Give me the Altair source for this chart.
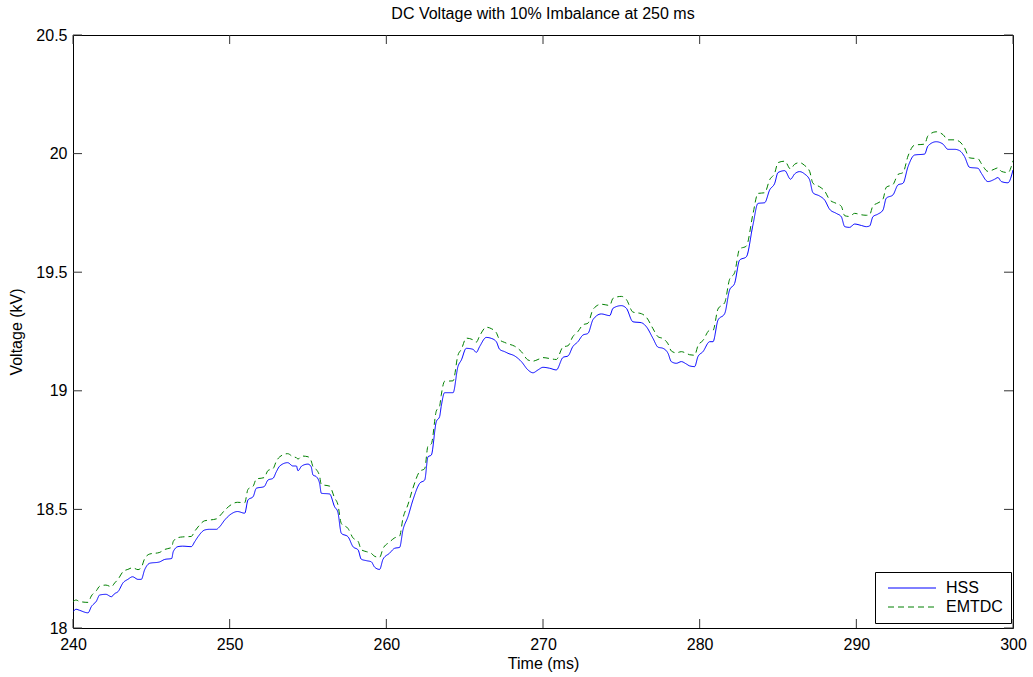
import altair as alt
import pandas as pd

# Sample times (ms) and DC voltages (kV) for both simulations
time_ms = [
    240.0, 240.2, 240.4, 240.96, 241.17, 241.5, 241.7, 242.1, 242.45, 242.66,
    242.87, 243.2, 243.5, 243.8, 244.15, 244.36, 244.57, 244.9, 245.5, 245.85,
    246.3, 246.4, 246.7, 247.0, 247.55, 247.77, 247.98, 248.4, 248.7, 249.15,
    249.36, 249.68, 250.1, 250.5, 250.96, 251.17, 251.5, 251.7, 252.2, 252.45,
    252.77, 252.98, 253.2, 253.7, 254.04, 254.26, 254.36, 254.6, 255.0, 255.2,
    255.32, 255.53, 255.74, 255.85, 256.38, 256.7, 256.9, 257.13, 257.55, 257.87,
    258.2, 258.4, 258.72, 259.04, 259.26, 259.57, 259.79, 260.2, 260.53, 260.85,
    261.06, 261.38, 261.7, 262.13, 262.45, 262.66, 262.87, 263.19, 263.4, 263.5,
    263.72, 264.26, 264.57, 264.79, 265.1, 265.53, 265.74, 265.96, 266.38, 266.7,
    267.02, 267.23, 267.55, 267.77, 268.19, 268.62, 269.04, 269.36, 269.68, 270.0,
    270.43, 270.85, 271.28, 271.6, 271.9, 272.23, 272.55, 272.87, 273.2, 273.72,
    274.26, 274.47, 275.0, 275.32, 275.74, 276.28, 276.6, 277.02, 277.34, 277.66,
    277.98, 278.19, 278.51, 278.83, 279.15, 279.36, 279.68, 279.89, 280.21, 280.64,
    280.85, 281.17, 281.6, 281.91, 282.23, 282.55, 282.98, 283.4, 283.72, 284.15,
    284.47, 284.79, 285.0, 285.43, 285.8, 286.06, 286.38, 286.7, 287.02, 287.23,
    287.66, 287.98, 288.3, 288.72, 289.04, 289.26, 289.57, 289.89, 290.32, 290.64,
    290.85, 291.06, 291.38, 291.7, 291.91, 292.34, 292.66, 292.98, 293.3, 293.72,
    294.36, 294.57, 295.1, 295.53, 295.85, 296.28, 296.6, 296.9, 297.23, 297.77,
    297.98, 298.4, 298.83, 299.04, 299.26, 299.68, 300.0,
]

hss_kv = [
    18.069, 18.079, 18.075, 18.064, 18.090, 18.114, 18.139, 18.142, 18.132, 18.145,
    18.153, 18.191, 18.205, 18.216, 18.205, 18.205, 18.245, 18.273, 18.278, 18.289,
    18.293, 18.322, 18.343, 18.345, 18.343, 18.364, 18.385, 18.413, 18.416, 18.416,
    18.427, 18.455, 18.481, 18.491, 18.484, 18.540, 18.554, 18.589, 18.596, 18.624,
    18.631, 18.659, 18.683, 18.697, 18.683, 18.683, 18.663, 18.683, 18.691, 18.680,
    18.645, 18.638, 18.610, 18.568, 18.565, 18.511, 18.490, 18.399, 18.385, 18.343,
    18.329, 18.290, 18.284, 18.279, 18.256, 18.247, 18.290, 18.315, 18.336, 18.340,
    18.413, 18.469, 18.540, 18.610, 18.624, 18.722, 18.729, 18.870, 18.891, 18.933,
    18.992, 18.992, 19.102, 19.130, 19.179, 19.175, 19.162, 19.187, 19.225, 19.221,
    19.207, 19.175, 19.165, 19.158, 19.147, 19.123, 19.088, 19.076, 19.088, 19.099,
    19.095, 19.088, 19.141, 19.147, 19.186, 19.207, 19.235, 19.242, 19.301, 19.324,
    19.317, 19.348, 19.359, 19.348, 19.291, 19.287, 19.270, 19.221, 19.184, 19.179,
    19.158, 19.123, 19.116, 19.123, 19.113, 19.105, 19.102, 19.144, 19.165, 19.207,
    19.207, 19.298, 19.326, 19.425, 19.453, 19.551, 19.565, 19.699, 19.790, 19.793,
    19.847, 19.875, 19.920, 19.928, 19.892, 19.914, 19.924, 19.914, 19.889, 19.835,
    19.821, 19.804, 19.765, 19.748, 19.734, 19.692, 19.689, 19.703, 19.697, 19.692,
    19.695, 19.734, 19.745, 19.762, 19.812, 19.826, 19.868, 19.875, 19.945, 19.994,
    19.998, 20.032, 20.050, 20.040, 20.018, 20.018, 20.012, 19.988, 19.942, 19.938,
    19.917, 19.882, 19.892, 19.899, 19.882, 19.877, 19.931,
]

emtdc_kv = [
    18.111, 18.118, 18.112, 18.108, 18.135, 18.158, 18.176, 18.181, 18.174, 18.190,
    18.205, 18.238, 18.247, 18.254, 18.246, 18.255, 18.292, 18.312, 18.318, 18.331,
    18.340, 18.365, 18.381, 18.384, 18.386, 18.408, 18.426, 18.452, 18.455, 18.460,
    18.472, 18.496, 18.520, 18.530, 18.528, 18.585, 18.598, 18.628, 18.634, 18.664,
    18.672, 18.703, 18.722, 18.735, 18.722, 18.718, 18.712, 18.725, 18.722, 18.705,
    18.680, 18.668, 18.640, 18.605, 18.598, 18.548, 18.522, 18.440, 18.420, 18.380,
    18.365, 18.330, 18.322, 18.315, 18.302, 18.298, 18.335, 18.362, 18.380, 18.388,
    18.462, 18.520, 18.590, 18.660, 18.672, 18.768, 18.776, 18.915, 18.935, 18.980,
    19.040, 19.042, 19.150, 19.175, 19.222, 19.215, 19.205, 19.232, 19.268, 19.262,
    19.245, 19.215, 19.204, 19.198, 19.188, 19.165, 19.130, 19.125, 19.132, 19.140,
    19.136, 19.132, 19.185, 19.190, 19.228, 19.250, 19.278, 19.285, 19.344, 19.365,
    19.360, 19.390, 19.398, 19.385, 19.332, 19.325, 19.310, 19.262, 19.228, 19.220,
    19.198, 19.168, 19.160, 19.165, 19.158, 19.152, 19.150, 19.190, 19.212, 19.255,
    19.255, 19.345, 19.372, 19.470, 19.498, 19.598, 19.610, 19.745, 19.832, 19.835,
    19.890, 19.918, 19.962, 19.968, 19.935, 19.955, 19.962, 19.950, 19.925, 19.875,
    19.860, 19.842, 19.805, 19.790, 19.778, 19.738, 19.735, 19.748, 19.742, 19.740,
    19.742, 19.780, 19.792, 19.808, 19.858, 19.870, 19.912, 19.920, 19.990, 20.036,
    20.040, 20.075, 20.092, 20.080, 20.058, 20.058, 20.050, 20.025, 19.982, 19.978,
    19.958, 19.925, 19.935, 19.940, 19.925, 19.920, 19.970,
]

series_names = ["HSS", "EMTDC"]
series_colors = ["#0000ff", "#008000"]
x_ticks = [240, 250, 260, 270, 280, 290, 300]
y_ticks = [18.0, 18.5, 19.0, 19.5, 20.0, 20.5]

W, H = 940, 593
FONT = "Liberation Sans"

df = pd.DataFrame(
    {
        "t": time_ms * 2,
        "v": hss_kv + emtdc_kv,
        "series": ["HSS"] * len(time_ms) + ["EMTDC"] * len(time_ms),
    }
)

x_scale = alt.Scale(domain=[240, 300], nice=False, zero=False)
y_scale = alt.Scale(domain=[18, 20.5], nice=False, zero=False)

lines = (
    alt.Chart(df)
    .mark_line(strokeWidth=1, clip=True, interpolate="monotone")
    .encode(
        x=alt.X(
            "t:Q",
            scale=x_scale,
            axis=alt.Axis(
                values=x_ticks, format="d", title="Time (ms)",
                labelPadding=8, titlePadding=3, labelFlush=False,
            ),
        ),
        y=alt.Y(
            "v:Q",
            scale=y_scale,
            axis=alt.Axis(
                values=y_ticks, format="~g", title="Voltage (kV)",
                labelPadding=6, titlePadding=11, labelFlush=False,
            ),
        ),
        color=alt.Color(
            "series:N",
            scale=alt.Scale(domain=series_names, range=series_colors),
            legend=alt.Legend(
                title=None, orient="none", legendX=802, legendY=537,
                # short unit path scaled up into a ~48 px line sample
                symbolType="M-0.6,0H9", symbolSize=100, symbolStrokeWidth=1,
                labelFont=FONT, labelFontSize=16, labelColor="black",
                strokeColor="black", fillColor="white", padding=8,
                rowPadding=3, labelOffset=47,
            ),
        ),
        strokeDash=alt.StrokeDash(
            "series:N",
            scale=alt.Scale(domain=series_names, range=[[1, 0], [6, 4]]),
            legend=None,
        ),
        detail="series:N",
    )
)

xt = pd.DataFrame({"t": x_ticks})
yt = pd.DataFrame({"v": y_ticks})
tick_style = dict(color="#333333", strokeWidth=1)

x_bottom = alt.Chart(xt).mark_rule(**tick_style).encode(
    x="t:Q", y=alt.value(H), y2=alt.value(H - 9)
)
x_top = alt.Chart(xt).mark_rule(**tick_style).encode(
    x="t:Q", y=alt.value(0), y2=alt.value(9)
)
y_left = alt.Chart(yt).mark_rule(**tick_style).encode(
    y="v:Q", x=alt.value(0), x2=alt.value(9)
)
y_right = alt.Chart(yt).mark_rule(**tick_style).encode(
    y="v:Q", x=alt.value(W), x2=alt.value(W - 9)
)

chart = (
    alt.layer(x_bottom, x_top, y_left, y_right, lines)
    .properties(
        width=W,
        height=H,
        background="white",
        autosize=alt.AutoSizeParams(type="none"),
        padding={"left": 73, "top": 35, "right": 20, "bottom": 49},
        title=alt.Title(
            "DC Voltage with 10% Imbalance at 250 ms",
            font=FONT, fontSize=16, fontWeight="normal", color="black",
            offset=5,
        ),
    )
    .configure_view(stroke="black", strokeWidth=1)
    .configure_axis(
        grid=False, ticks=False, domain=False,
        labelFont=FONT, labelFontSize=16, labelColor="black",
        titleFont=FONT, titleFontSize=16, titleFontWeight="normal",
        titleColor="black",
    )
)

chart.save("out.html", embed_options={"renderer": "svg", "actions": False})
